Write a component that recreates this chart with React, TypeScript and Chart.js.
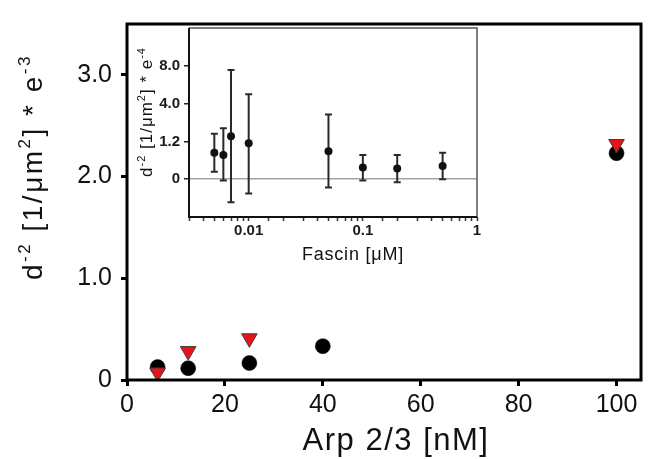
import React, { useEffect, useRef } from 'react';
import { Chart, registerables } from 'chart.js';

Chart.register(...registerables);

// ---------- main chart data (Arp 2/3 concentration, nM) ----------
const arpCircleX = [6.25, 12.5, 25, 40, 100];
const arpCircleY = [0.127, 0.116, 0.167, 0.333, 2.23];
const arpTriangleX = [6.25, 12.5, 25, 100];
const arpTriangleY = [0.074, 0.284, 0.41, 2.32];
const mainXTicks = [0, 20, 40, 60, 80, 100];
const mainYTicks = [0, 1, 2, 3];
const mainXRange = [0, 105];
const mainYRange = [0, 3.5];

// ---------- inset data (Fascin concentration, µM) ----------
const fascinX = [0.005, 0.006, 0.007, 0.01, 0.05, 0.1, 0.2, 0.5];
const fascinY = [0.84, 0.77, 1.59, 1.14, 0.89, 0.37, 0.34, 0.42];
const fascinLow = [0.24, -0.04, -0.73, -0.45, -0.26, -0.04, -0.1, 0.0];
const fascinHigh = [1.76, 2.18, 7.56, 5.0, 3.19, 0.77, 0.77, 0.84];
const insetYTicks = [0, 1.2, 4.0, 8.0];
const insetYRange = [-1.2, 12];
const insetXRange = [0.003, 1];
const insetXLabels = [0.01, 0.1, 1];

type Seg = { t: string; sup?: boolean };
const mainYTitle: Seg[] = [
  { t: 'd' }, { t: '-2', sup: true }, { t: ' [1/\u03bcm' }, { t: '2', sup: true }, { t: '] * e' }, { t: '-3', sup: true },
];
const mainXTitle: Seg[] = [{ t: 'Arp 2/3 [nM]' }];
const insetYTitle: Seg[] = [
  { t: 'd' }, { t: '-2', sup: true }, { t: ' [1/\u03bcm' }, { t: '2', sup: true }, { t: '] * e' }, { t: '-4', sup: true },
];
const insetXTitle: Seg[] = [{ t: 'Fascin [\u03bcM]' }];

const FAMILY = '"Liberation Sans", Arial, Helvetica, sans-serif';

// piecewise-linear axis of the inset: equal spacing between consecutive tick values
function insetPos(v: number): number {
  const t = insetYTicks;
  const n = t.length;
  if (v <= t[0]) return (v - t[0]) / (t[1] - t[0]);
  for (let i = 0; i < n - 1; i++) {
    if (v <= t[i + 1]) return i + (v - t[i]) / (t[i + 1] - t[i]);
  }
  return n - 1 + (v - t[n - 1]) / (t[n - 1] - t[n - 2]);
}

function drawRich(
  ctx: CanvasRenderingContext2D,
  segs: Seg[],
  cx: number,
  baseline: number,
  size: number,
  spacing: number,
  rotate: boolean,
  color = '#111'
) {
  ctx.save();
  if (rotate) {
    ctx.translate(baseline, cx);
    ctx.rotate(-Math.PI / 2);
  } else {
    ctx.translate(cx, baseline);
  }
  ctx.fillStyle = color;
  ctx.textBaseline = 'alphabetic';
  ctx.textAlign = 'left';
  (ctx as any).letterSpacing = spacing + 'px';
  const fontFor = (s: Seg) => `${s.sup ? Math.round(size * 0.62) : size}px ${FAMILY}`;
  const widths: number[] = [];
  let total = 0;
  for (const s of segs) {
    ctx.font = fontFor(s);
    const w = ctx.measureText(s.t).width;
    widths.push(w);
    total += w;
  }
  let x = -total / 2;
  segs.forEach((s, i) => {
    ctx.font = fontFor(s);
    ctx.fillText(s.t, x, s.sup ? -size * 0.42 : 0);
    x += widths[i];
  });
  ctx.restore();
}

export default function App() {
  const mainRef = useRef<HTMLCanvasElement>(null);
  const insetRef = useRef<HTMLCanvasElement>(null);

  useEffect(() => {
    const mainChart = new Chart(mainRef.current!, {
      type: 'scatter',
      data: {
        datasets: [
          {
            label: 'triangles',
            data: arpTriangleX.map((x, i) => ({ x, y: arpTriangleY[i] })),
            pointStyle: 'triangle',
            rotation: 180,
            pointRadius: 9,
            backgroundColor: '#e8141c',
            borderColor: '#3a3a3a',
            borderWidth: 1,
            showLine: false,
          } as any,
          {
            label: 'circles',
            data: arpCircleX.map((x, i) => ({ x, y: arpCircleY[i] })),
            pointStyle: 'circle',
            pointRadius: 7.5,
            backgroundColor: '#000',
            borderColor: '#000',
            borderWidth: 0.5,
            showLine: false,
          } as any,
        ],
      },
      options: {
        animation: false,
        responsive: false,
        devicePixelRatio: 1,
        events: [],
        layout: { padding: { top: 14, right: 4, left: 0, bottom: 0 } },
        plugins: { legend: { display: false }, tooltip: { enabled: false } },
        scales: {
          x: {
            type: 'linear',
            min: mainXRange[0],
            max: mainXRange[1],
            afterBuildTicks: (s: any) => { s.ticks = mainXTicks.map((v) => ({ value: v })); },
            afterFit: (s: any) => { s.height = 79; },
            border: { display: false },
            grid: { drawOnChartArea: false, drawTicks: true, tickLength: 6, tickWidth: 3, tickColor: '#000' },
            ticks: {
              padding: 4,
              color: '#111',
              font: { family: FAMILY, size: 25 },
              maxRotation: 0,
              autoSkip: false,
              callback: (v: any) => String(v),
            },
          },
          y: {
            type: 'linear',
            min: mainYRange[0],
            max: mainYRange[1],
            afterBuildTicks: (s: any) => { s.ticks = mainYTicks.map((v) => ({ value: v })); },
            afterFit: (s: any) => { s.width = 127; },
            border: { display: false },
            grid: { drawOnChartArea: false, drawTicks: true, tickLength: 6, tickWidth: 3, tickColor: '#000' },
            ticks: {
              padding: 9,
              color: '#111',
              font: { family: FAMILY, size: 25 },
              autoSkip: false,
              callback: (v: any) => (Number(v) === 0 ? '0' : Number(v).toFixed(1)),
            },
          },
        },
      },
      plugins: [
        {
          id: 'mainFrame',
          afterDraw(chart: any) {
            const { ctx, chartArea: a } = chart;
            ctx.save();
            ctx.strokeStyle = '#000';
            ctx.lineWidth = 3;
            ctx.strokeRect(a.left, a.top, a.right - a.left, a.bottom - a.top);
            ctx.restore();
            drawRich(ctx, mainYTitle, 167, 42, 28, 2.5, true);
            drawRich(ctx, mainXTitle, 396, 450, 31, 1.5, false);
          },
        },
      ],
    } as any);

    const insetChart = new Chart(insetRef.current!, {
      type: 'scatter',
      data: {
        datasets: [
          {
            label: 'fascin',
            data: fascinX.map((x, i) => ({ x, y: insetPos(fascinY[i]) })),
            pointStyle: 'circle',
            pointRadius: 4,
            backgroundColor: '#111',
            borderColor: '#111',
            borderWidth: 0,
            showLine: false,
          } as any,
        ],
      },
      options: {
        animation: false,
        responsive: false,
        devicePixelRatio: 1,
        events: [],
        layout: { padding: { top: 2, right: 8, left: 0, bottom: 0 } },
        plugins: { legend: { display: false }, tooltip: { enabled: false } },
        scales: {
          x: {
            type: 'logarithmic',
            min: insetXRange[0],
            max: insetXRange[1],
            afterFit: (s: any) => { s.height = 48; },
            border: { display: false },
            grid: { drawOnChartArea: false, drawTicks: true, tickLength: 4, tickWidth: 1.5, tickColor: '#333' },
            ticks: {
              padding: 1,
              color: '#1a1a1a',
              font: { family: FAMILY, size: 15, weight: 'bold' },
              maxRotation: 0,
              minRotation: 0,
              autoSkip: false,
              callback: (v: any) => {
                const n = Number(v);
                return insetXLabels.some((l) => Math.abs(n - l) / l < 1e-6) ? String(n) : '';
              },
            },
          },
          y: {
            type: 'linear',
            min: insetPos(insetYRange[0]),
            max: insetPos(insetYRange[1]),
            afterBuildTicks: (s: any) => { s.ticks = insetYTicks.map((v) => ({ value: insetPos(v) })); },
            afterFit: (s: any) => { s.width = 59; },
            border: { display: false },
            grid: {
              drawOnChartArea: true,
              drawTicks: true,
              tickLength: 5,
              tickWidth: 1.5,
              tickColor: '#222',
              lineWidth: 1.5,
              color: (c: any) => (c.tick && c.tick.value === 0 ? '#a3a3a3' : 'rgba(0,0,0,0)'),
            },
            ticks: {
              padding: 4,
              color: '#1a1a1a',
              font: { family: FAMILY, size: 15, weight: 'bold' },
              autoSkip: false,
              callback: (_v: any, idx: number) => {
                const t = insetYTicks[idx];
                return t === 0 ? '0' : t.toFixed(1);
              },
            },
          },
        },
      },
      plugins: [
        {
          id: 'errorBars',
          beforeDatasetsDraw(chart: any) {
            const { ctx, scales } = chart;
            ctx.save();
            ctx.strokeStyle = '#2a2a2a';
            ctx.lineWidth = 2;
            fascinX.forEach((xv, i) => {
              const x = scales.x.getPixelForValue(xv);
              const yl = scales.y.getPixelForValue(insetPos(fascinLow[i]));
              const yh = scales.y.getPixelForValue(insetPos(fascinHigh[i]));
              ctx.beginPath();
              ctx.moveTo(x, yl);
              ctx.lineTo(x, yh);
              ctx.moveTo(x - 3.5, yl);
              ctx.lineTo(x + 3.5, yl);
              ctx.moveTo(x - 3.5, yh);
              ctx.lineTo(x + 3.5, yh);
              ctx.stroke();
            });
            ctx.restore();
          },
          afterDraw(chart: any) {
            const { ctx, chartArea: a } = chart;
            ctx.save();
            ctx.strokeStyle = '#555';
            ctx.lineWidth = 1.5;
            ctx.beginPath();
            ctx.moveTo(a.left, a.top);
            ctx.lineTo(a.right, a.top);
            ctx.lineTo(a.right, a.bottom);
            ctx.stroke();
            ctx.strokeStyle = '#111';
            ctx.lineWidth = 2;
            ctx.beginPath();
            ctx.moveTo(a.left, a.top);
            ctx.lineTo(a.left, a.bottom);
            ctx.lineTo(a.right, a.bottom);
            ctx.stroke();
            ctx.restore();
            drawRich(ctx, insetYTitle, 97, 22, 17, 1, true);
            drawRich(ctx, insetXTitle, 223, 245, 18, 0.8, false);
          },
        },
      ],
    } as any);

    return () => {
      mainChart.destroy();
      insetChart.destroy();
    };
  }, []);

  return (
    <div style={{ position: 'absolute', left: 0, top: 0, width: 651, height: 459, background: '#fff' }}>
      <canvas
        ref={mainRef}
        width={651}
        height={459}
        style={{ position: 'absolute', left: 0, top: 0, width: 651, height: 459 }}
      />
      <canvas
        ref={insetRef}
        width={355}
        height={250}
        style={{ position: 'absolute', left: 130, top: 15, width: 355, height: 250 }}
      />
    </div>
  );
}
